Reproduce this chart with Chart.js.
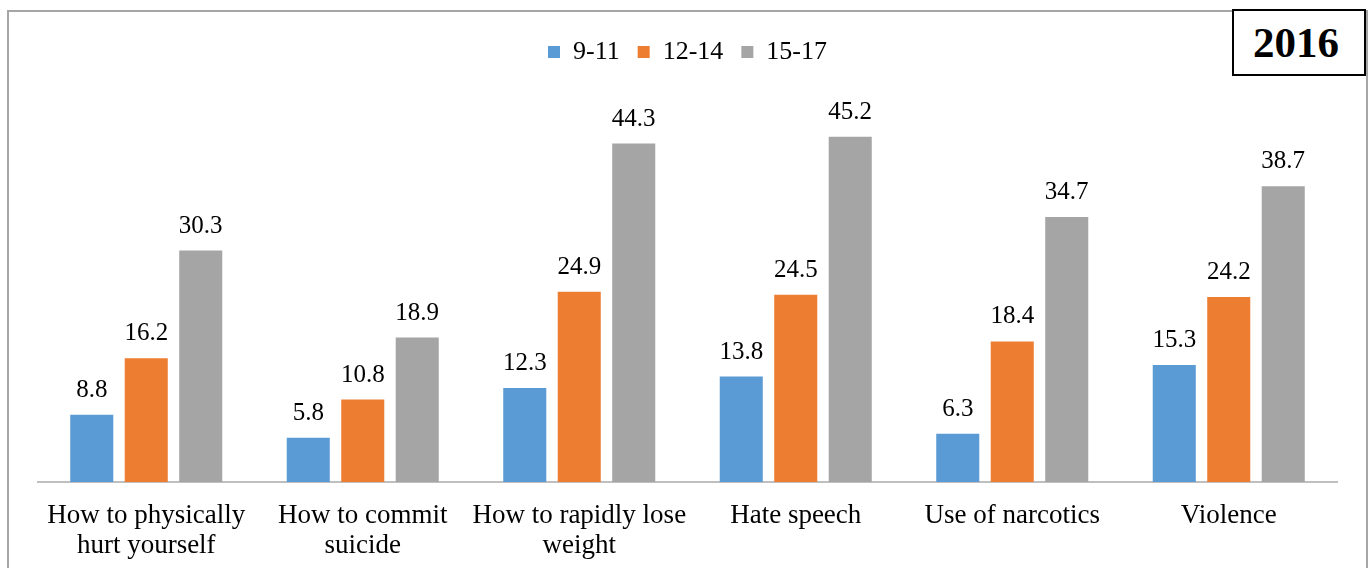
<!DOCTYPE html>
<html>
<head>
<meta charset="utf-8">
<script src="https://cdn.jsdelivr.net/npm/chart.js@4"></script>
<style>
  html, body { margin: 0; padding: 0; background: #fff; }
  #frame {
    position: absolute; left: 7px; top: 10px; width: 1357px; height: 580px;
    border: 2px solid #a6a6a6; border-bottom: none; overflow: hidden;
  }
  #chart-wrap { position: absolute; left: 0; top: 0; width: 1357px; height: 558px; }
  #year {
    position: absolute; left: 1232px; top: 9px; width: 124px; height: 63px;
    padding-right: 6px;
    border: 2px solid #000; background: #fff;
    font: bold 43px "Liberation Serif", serif; color: #000;
    display: flex; align-items: center; justify-content: center;
  }
</style>
</head>
<body>
<div id="frame"><div id="chart-wrap"><canvas id="topics"></canvas></div></div>
<div id="year">2016</div>
<script>
// topics, one group of bars per topic
const CATEGORIES = [
  ['How to physically', 'hurt yourself'],
  ['How to commit', 'suicide'],
  ['How to rapidly lose', 'weight'],
  'Hate speech',
  'Use of narcotics',
  'Violence'
];
const AGE_GROUPS = ['9-11', '12-14', '15-17'];
const AGE_9_11 = [8.8, 5.8, 12.3, 13.8, 6.3, 15.3];
const AGE_12_14 = [16.2, 10.8, 24.9, 24.5, 18.4, 24.2];
const AGE_15_17 = [30.3, 18.9, 44.3, 45.2, 34.7, 38.7];
const COLORS = ['#5b9bd5', '#ed7d31', '#a5a5a5'];

const FONT = '"Liberation Serif", "Times New Roman", serif';

// value printed above each bar
const bar_labels = {
  id: 'bar_labels',
  afterDatasetsDraw(chart){
    const ctx = chart.ctx;
    ctx.save();
    ctx.font = '25px ' + FONT;
    ctx.fillStyle = '#000';
    ctx.textAlign = 'center';
    ctx.textBaseline = 'bottom';
    chart.data.datasets.forEach((ds, i) => {
      chart.getDatasetMeta(i).data.forEach((bar, j) => {
        ctx.fillText(ds.data[j].toFixed(1), bar.x, bar.y - 12);
      });
    });
    ctx.restore();
  }
};

// extra room between the legend and the bars
const legend_gap = {
  id: 'legend_gap',
  beforeInit(chart){
    const fit = chart.legend.fit;
    chart.legend.fit = function(){
      fit.bind(chart.legend)();
      this.height += 25;
    };
  }
};

const series = [AGE_9_11, AGE_12_14, AGE_15_17];

new Chart(document.getElementById('topics'), {
  type: 'bar',
  data: {
    labels: CATEGORIES,
    datasets: AGE_GROUPS.map((name, i) => ({
      label: name,
      data: series[i],
      backgroundColor: COLORS[i],
      categoryPercentage: 0.755,
      barPercentage: 0.79
    }))
  },
  options: {
    responsive: true,
    maintainAspectRatio: false,
    animation: false,
    layout: { padding: { left: 29, right: 29, top: 9, bottom: 0 } },
    plugins: {
      legend: {
        position: 'top',
        labels: {
          font: { family: FONT, size: 26 },
          color: '#000',
          boxWidth: 12,
          boxHeight: 12,
          padding: 18
        }
      },
      tooltip: { enabled: false }
    },
    scales: {
      x: {
        grid: { display: false, drawTicks: false },
        border: { color: '#bfbfbf', width: 2 },
        ticks: {
          font: { family: FONT, size: 27, lineHeight: 1.11 },
          color: '#000',
          padding: 19,
          maxRotation: 0,
          autoSkip: false
        },
        afterFit(scale){ scale.height = 88; }
      },
      y: {
        display: false,
        min: 0,
        max: 50
      }
    }
  },
  plugins: [bar_labels, legend_gap]
});
</script>
</body>
</html>
